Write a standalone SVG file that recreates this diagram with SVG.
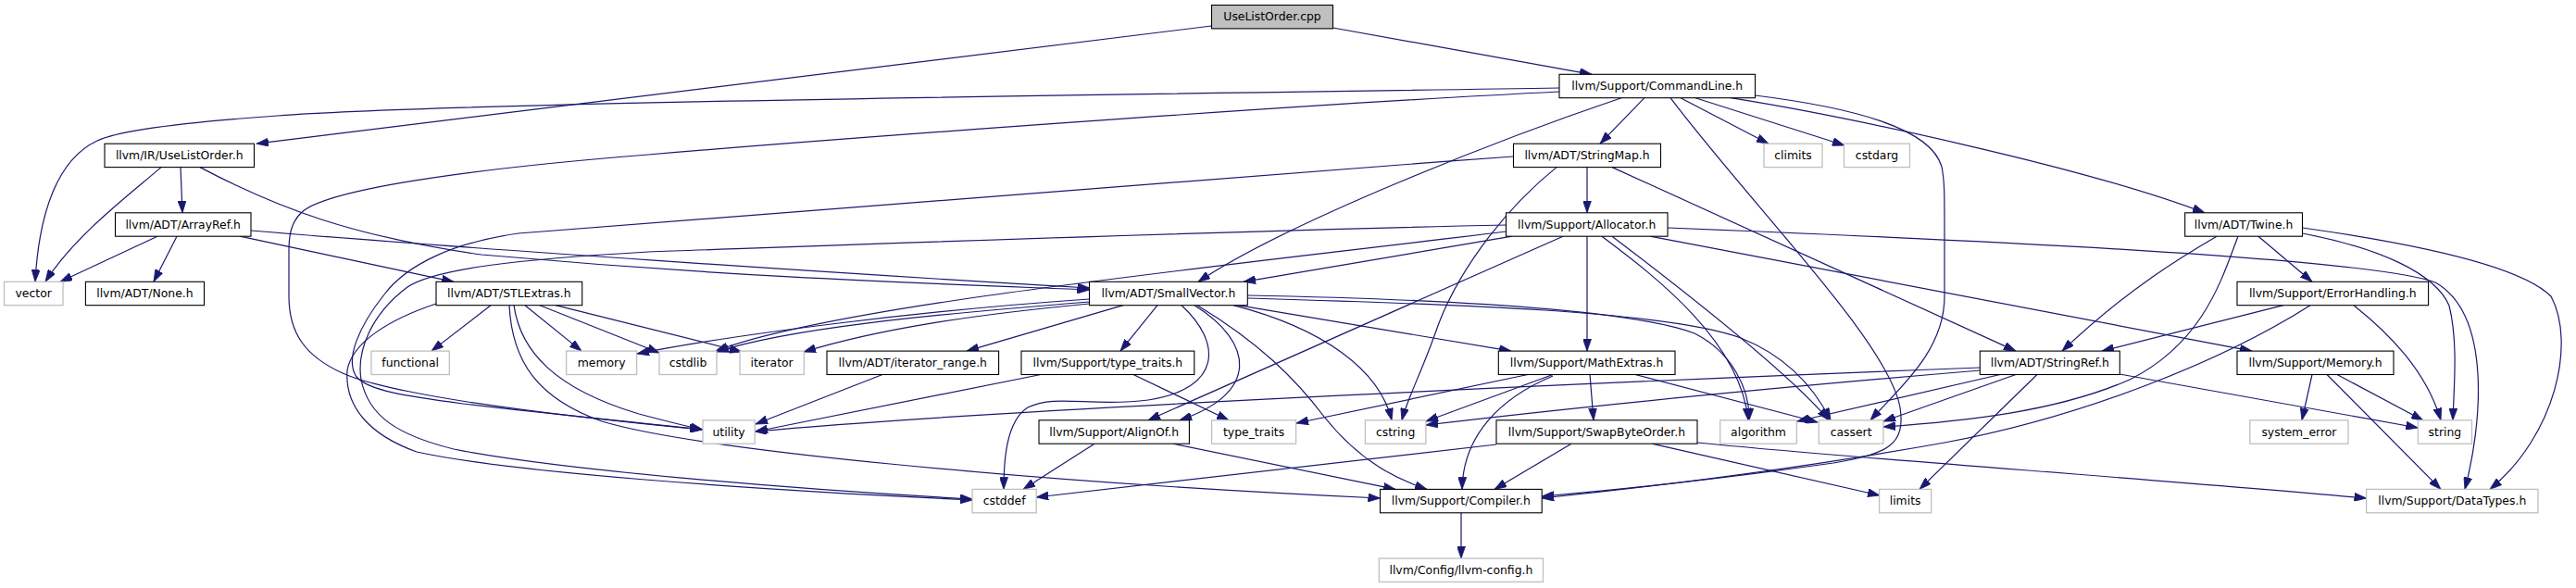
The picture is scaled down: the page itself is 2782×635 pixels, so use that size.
<svg xmlns="http://www.w3.org/2000/svg" width="2782" height="635" viewBox="0 0 2782 635">
<style>
.n rect{fill:#fff;stroke:#000;stroke-width:1.1}
.g rect{fill:#fff;stroke:#bfbfbf;stroke-width:1.3}
.c rect{fill:#bfbfbf;stroke:#000;stroke-width:1.1}
text{font-family:"DejaVu Sans",sans-serif;font-size:12.4px;text-anchor:middle;fill:#000}
#edges path{fill:none;stroke:#191970;stroke-width:1.2;marker-end:url(#a)}
</style>
<defs>
<marker id="a" viewBox="0 0 13 9" refX="13" refY="4.5" markerWidth="13" markerHeight="9" orient="auto" markerUnits="userSpaceOnUse">
<path d="M0,0 L13,4.5 L0,9 z" fill="#191970" stroke="#191970" stroke-width="0.8"/>
</marker>
</defs>
<rect width="2782" height="635" fill="#fff"/>
<g id="edges">
<path d="M1308.5,28 L277,155.2"/>
<path d="M1439.5,30 L1719,80.3"/>
<path d="M1684,95 C1300,101 500,110 300,125 C200,132 130,140 105,152 C62,172 42,230 38,304.3"/>
<path d="M1684,99 C1400,113 900,150 700,167 C500,183 350,205 325,230 C314,241 312,255 312,270 L312,320 C312,360 330,385 370,403 C420,425 560,445 758,464"/>
<path d="M1751,105.7 C1620,150 1390,240 1294,304.3"/>
<path d="M1776,105.7 L1728,155.2"/>
<path d="M1815,105.7 L1910,155.2"/>
<path d="M1831,105.7 L1992,157"/>
<path d="M1869,105.7 C1990,125 2250,180 2381,229.8"/>
<path d="M1895.5,103 C2000,116 2085,138 2097,180 C2100,195 2100,210 2100,240 L2100,320 C2100,380 2050,420 2020,453.8"/>
<path d="M1804,105.7 C1890,220 2040,370 2052,440 C2058,480 2040,490 1980,500 C1880,514 1760,528 1665.2,536"/>
<path d="M195,180.6 L197,229.8"/>
<path d="M174,180.6 C140,210 80,255 49,304.3"/>
<path d="M216,180.6 C300,225 380,255 520,275 C800,300 1000,306 1176.5,313"/>
<path d="M170,255.2 L65,304.3"/>
<path d="M191,255.2 L166,304.3"/>
<path d="M259,255.2 L490,304.3"/>
<path d="M271,249 C500,268 900,295 1176.5,311"/>
<path d="M1714,180.6 L1714,229.8"/>
<path d="M1681,180.6 C1620,230 1570,300 1550,360 C1532,410 1520,430 1514,453.8"/>
<path d="M1741,180.6 L2177,379.1"/>
<path d="M1634.5,169 C1200,200 750,235 560,252 C490,262 440,285 415,318 C388,352 372,388 385,407 C398,422 440,428 500,436 C600,448 700,457 758,464"/>
<path d="M1633,255.2 L1343,304.3"/>
<path d="M1688,255.2 L1240,453.8"/>
<path d="M1714,255.2 L1714,379.1"/>
<path d="M1730,255.2 C1790,300 1880,370 1888,453.8"/>
<path d="M1741,255.2 C1800,300 1930,400 1975,453.8"/>
<path d="M1782,255.2 L2432,379.1"/>
<path d="M1801,246 C2100,258 2560,278 2630,305 C2692,340 2680,460 2662,528.4"/>
<path d="M1626.5,250 C1300,290 900,330 773,379.1"/>
<path d="M1626.5,243 C1300,250 900,265 700,272 C560,280 470,290 440,310 C400,340 385,380 390,410 C398,450 430,470 490,485 C600,507 850,528 1050,539"/>
<path d="M2394,255.2 C2360,275 2300,310 2227,379.1"/>
<path d="M2417,255.2 C2400,300 2380,370 2300,410 C2220,445 2120,455 2034,461"/>
<path d="M2439,255.2 L2497,304.3"/>
<path d="M2486.5,252 C2570,268 2630,295 2645,330 C2655,370 2650,420 2649,453.8"/>
<path d="M2486.5,246 C2600,262 2720,285 2755,320 C2782,370 2760,470 2689,528.4"/>
<path d="M530,329.7 L466,379.1"/>
<path d="M567,329.7 L628,379.1"/>
<path d="M583,329.7 L712,381"/>
<path d="M600,329.7 L801,380"/>
<path d="M555,329.7 C562,380 600,420 690,447 C720,455 740,460 759,464"/>
<path d="M550,329.7 C553,390 580,430 650,455 C750,485 1100,520 1490.5,538"/>
<path d="M471,328 C420,345 380,370 375,400 C372,440 400,470 450,488 C550,510 800,528 1050,540"/>
<path d="M1176.5,323 C1000,335 800,360 688,382"/>
<path d="M1176.5,326 C1000,340 850,355 774,380"/>
<path d="M1176.5,328 C1050,340 950,355 868,380"/>
<path d="M1213,329.7 L1044,379.1"/>
<path d="M1250,329.7 L1210,379.1"/>
<path d="M1276,329.7 C1320,370 1320,420 1240,432 C1180,440 1140,425 1110,440 C1086,455 1084,500 1084,528.4"/>
<path d="M1290,329.7 C1355,370 1360,425 1274,453.8"/>
<path d="M1293,329.7 C1360,370 1400,410 1430,450 C1470,500 1510,518 1541,528.4"/>
<path d="M1337,329.7 L1632,379.1"/>
<path d="M1332,329.7 C1430,355 1490,400 1503,453.8"/>
<path d="M1347.3,319 C1500,322 1750,330 1830,360 C1870,380 1890,420 1889,453.8"/>
<path d="M1347.3,322 C1550,328 1800,335 1880,365 C1930,385 1960,420 1977,453.8"/>
<path d="M2466,329.7 L2270,379.1"/>
<path d="M2495,329.7 C2400,390 2250,450 2100,478 C1950,505 1800,524 1665.2,538"/>
<path d="M2542,329.7 C2580,360 2620,400 2636,453.8"/>
<path d="M953,404.5 L816,458"/>
<path d="M1124,404.5 L816,466"/>
<path d="M1224,404.5 L1327,453.8"/>
<path d="M1650,404.5 L1400,457"/>
<path d="M1677,404.5 L1540,455"/>
<path d="M1717,404.5 L1721,453.8"/>
<path d="M1677,406 C1620,430 1580,470 1579,528.4"/>
<path d="M1766,404.5 L1963,456"/>
<path d="M2138.3,397 C1800,410 1100,440 815.2,466"/>
<path d="M2138.3,400 C1900,420 1700,440 1540,459"/>
<path d="M2160,404.5 L1941,455"/>
<path d="M2177,404.5 L2034,455"/>
<path d="M2200,404.5 L2073,528.4"/>
<path d="M2289,404 L2611.4,462"/>
<path d="M2497,404.5 L2486,453.8"/>
<path d="M2524,404.5 L2617,454"/>
<path d="M2513,404.5 L2636,528.4"/>
<path d="M1182,479.2 L1105,528.4"/>
<path d="M1267,479.2 L1507,528.4"/>
<path d="M1616,480 L1119.2,537"/>
<path d="M1697,479.2 L1614,528.4"/>
<path d="M1784,479.2 L2030,535"/>
<path d="M1833,478 C2000,495 2300,515 2555.6,538"/>
<path d="M1578,553.8 L1578,603"/>
</g>
<g id="n_cpp" class="c"><rect x="1308.5" y="5.5" width="131" height="25.4"/><text x="1374" y="22.2">UseListOrder.cpp</text></g>
<g id="n_commandline" class="n"><rect x="1684" y="80.3" width="211.5" height="25.4"/><text x="1789.7" y="97">llvm/Support/CommandLine.h</text></g>
<g id="n_uselistorder_h" class="n"><rect x="113" y="155.2" width="161.5" height="25.4"/><text x="193.7" y="171.9">llvm/IR/UseListOrder.h</text></g>
<g id="n_stringmap" class="n"><rect x="1634.5" y="155.2" width="159" height="25.4"/><text x="1714" y="171.9">llvm/ADT/StringMap.h</text></g>
<g id="n_climits" class="g"><rect x="1905" y="155.2" width="63" height="25.4"/><text x="1936.5" y="171.9">climits</text></g>
<g id="n_cstdarg" class="g"><rect x="1991.5" y="155.2" width="71" height="25.4"/><text x="2027" y="171.9">cstdarg</text></g>
<g id="n_arrayref" class="n"><rect x="124.5" y="229.8" width="146.5" height="25.4"/><text x="197.7" y="246.5">llvm/ADT/ArrayRef.h</text></g>
<g id="n_allocator" class="n"><rect x="1626.5" y="229.8" width="174.5" height="25.4"/><text x="1713.7" y="246.5">llvm/Support/Allocator.h</text></g>
<g id="n_twine" class="n"><rect x="2359.7" y="229.8" width="126.8" height="25.4"/><text x="2423.1" y="246.5">llvm/ADT/Twine.h</text></g>
<g id="n_vector" class="g"><rect x="4.5" y="304.3" width="63.5" height="25.4"/><text x="36.2" y="321">vector</text></g>
<g id="n_none" class="n"><rect x="92.4" y="304.3" width="128.1" height="25.4"/><text x="156.4" y="321">llvm/ADT/None.h</text></g>
<g id="n_stlextras" class="n"><rect x="471" y="304.3" width="157.7" height="25.4"/><text x="549.8" y="321">llvm/ADT/STLExtras.h</text></g>
<g id="n_smallvector" class="n"><rect x="1176.5" y="304.3" width="170.8" height="25.4"/><text x="1261.9" y="321">llvm/ADT/SmallVector.h</text></g>
<g id="n_errorhandling" class="n"><rect x="2416" y="304.3" width="206.6" height="25.4"/><text x="2519.3" y="321">llvm/Support/ErrorHandling.h</text></g>
<g id="n_functional" class="g"><rect x="401" y="379.1" width="84.3" height="25.4"/><text x="443.1" y="395.8">functional</text></g>
<g id="n_memory" class="g"><rect x="611.6" y="379.1" width="76" height="25.4"/><text x="649.6" y="395.8">memory</text></g>
<g id="n_cstdlib" class="g"><rect x="712" y="379.1" width="62" height="25.4"/><text x="743" y="395.8">cstdlib</text></g>
<g id="n_iterator" class="g"><rect x="799" y="379.1" width="69.3" height="25.4"/><text x="833.6" y="395.8">iterator</text></g>
<g id="n_iterator_range" class="n"><rect x="893" y="379.1" width="185.6" height="25.4"/><text x="985.8" y="395.8">llvm/ADT/iterator_range.h</text></g>
<g id="n_type_traits_h" class="n"><rect x="1103" y="379.1" width="186.8" height="25.4"/><text x="1196.4" y="395.8">llvm/Support/type_traits.h</text></g>
<g id="n_mathextras" class="n"><rect x="1618.3" y="379.1" width="190.7" height="25.4"/><text x="1713.6" y="395.8">llvm/Support/MathExtras.h</text></g>
<g id="n_stringref" class="n"><rect x="2138.3" y="379.1" width="151" height="25.4"/><text x="2213.8" y="395.8">llvm/ADT/StringRef.h</text></g>
<g id="n_memory_h" class="n"><rect x="2416" y="379.1" width="169" height="25.4"/><text x="2500.5" y="395.8">llvm/Support/Memory.h</text></g>
<g id="n_utility" class="g"><rect x="759" y="453.8" width="56.2" height="25.4"/><text x="787.1" y="470.5">utility</text></g>
<g id="n_alignof" class="n"><rect x="1122" y="453.8" width="162.4" height="25.4"/><text x="1203.2" y="470.5">llvm/Support/AlignOf.h</text></g>
<g id="n_type_traits" class="g"><rect x="1308.6" y="453.8" width="91" height="25.4"/><text x="1354.1" y="470.5">type_traits</text></g>
<g id="n_cstring" class="g"><rect x="1474.4" y="453.8" width="65.5" height="25.4"/><text x="1507.1" y="470.5">cstring</text></g>
<g id="n_swapbyteorder" class="n"><rect x="1616" y="453.8" width="217" height="25.4"/><text x="1724.5" y="470.5">llvm/Support/SwapByteOrder.h</text></g>
<g id="n_algorithm" class="g"><rect x="1857.7" y="453.8" width="82.6" height="25.4"/><text x="1899" y="470.5">algorithm</text></g>
<g id="n_cassert" class="g"><rect x="1964.3" y="453.8" width="69.6" height="25.4"/><text x="1999.1" y="470.5">cassert</text></g>
<g id="n_system_error" class="g"><rect x="2429.8" y="453.8" width="106.2" height="25.4"/><text x="2482.9" y="470.5">system_error</text></g>
<g id="n_string" class="g"><rect x="2611.4" y="453.8" width="58.1" height="25.4"/><text x="2640.4" y="470.5">string</text></g>
<g id="n_cstddef" class="g"><rect x="1050" y="528.4" width="69.2" height="25.4"/><text x="1084.6" y="545.1">cstddef</text></g>
<g id="n_compiler" class="n"><rect x="1490.5" y="528.4" width="174.7" height="25.4"/><text x="1577.8" y="545.1">llvm/Support/Compiler.h</text></g>
<g id="n_limits" class="g"><rect x="2029.6" y="528.4" width="56.1" height="25.4"/><text x="2057.6" y="545.1">limits</text></g>
<g id="n_datatypes" class="g"><rect x="2555.6" y="528.4" width="185.4" height="25.4"/><text x="2648.3" y="545.1">llvm/Support/DataTypes.h</text></g>
<g id="n_llvm_config" class="g"><rect x="1489.3" y="603" width="177.2" height="25.4"/><text x="1577.9" y="619.7">llvm/Config/llvm-config.h</text></g>
</svg>
